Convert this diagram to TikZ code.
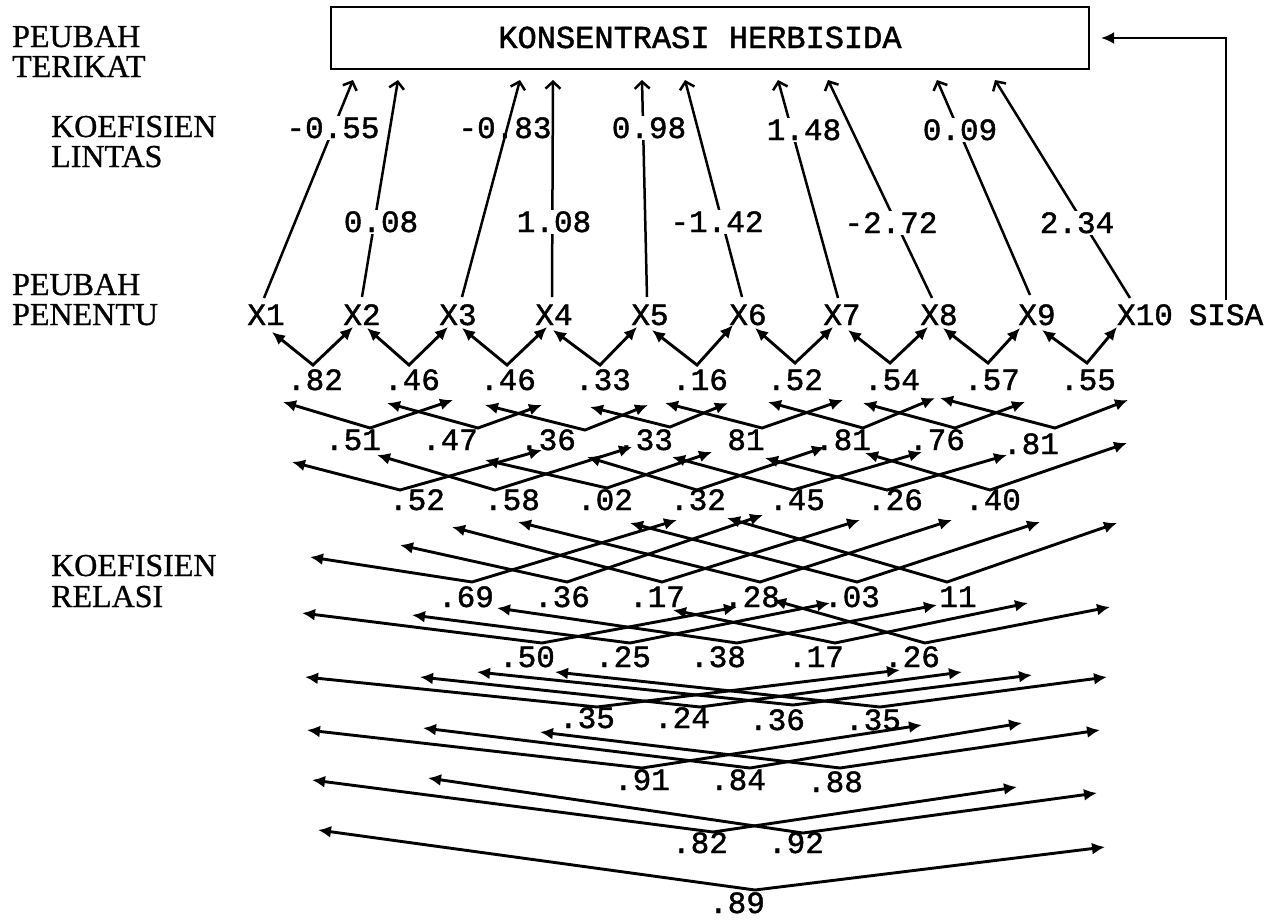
\documentclass[tikz,border=0pt]{standalone}
\usepackage{fontspec}
\setmainfont{Liberation Serif}[FakeBold=0.8]
\setmonofont{Liberation Mono}[FakeBold=1.4]
\usetikzlibrary{arrows.meta}
\begin{document}
\begin{tikzpicture}[x=1pt,y=-1pt,
  carr/.style={line width=2.9pt,line join=miter,{Latex[length=13pt,width=12pt]}-{Latex[length=13pt,width=12pt]}},
  parr/.style={line width=2.5pt,-{Straight Barb[length=7pt,width=15pt,line width=2.5pt]}},
  sarr/.style={line width=2.2pt,-{Latex[length=13pt,width=12pt]}},
  mono/.style={font=\fontsize{31}{31}\selectfont\ttfamily,inner sep=0pt,text height=20pt,text depth=0pt},
  plab/.style={mono,fill=white,inner xsep=2pt,inner ysep=2pt},
  side/.style={font=\fontsize{32}{32}\selectfont,inner sep=0pt,anchor=base west}]
\fill[white] (0,0) rectangle (1278,919);
\useasboundingbox (0,0) rectangle (1278,919);

% side labels
\node[side] (s1) at (12,47) {PEUBAH};
\node[side] (s2) at (12,77) {TERIKAT};
\node[side] (s3) at (51,137) {KOEFISIEN};
\node[side] (s4) at (51,167) {LINTAS};
\node[side] (s5) at (12,295) {PEUBAH};
\node[side] (s6) at (12,325) {PENENTU};
\node[side] (s7) at (51,576) {KOEFISIEN};
\node[side] (s8) at (51,607) {RELASI};

% dependent variable box
\node[draw,line width=2.2pt,minimum width=758pt,minimum height=62pt,inner sep=0pt] (box) at (710,38) {};
\node[mono,font=\fontsize{32}{32}\selectfont\ttfamily] (title) at (700,38) {KONSENTRASI HERBISIDA};

% predictors
\foreach \i/\x in {1/266,2/362,3/458,4/554,5/650,6/748,7/842,8/939,9/1037,10/1145}
  \node[mono] (X\i) at (\x,315) {X\i};
\node[mono] (sisa) at (1226,315) {SISA};
\draw[sarr,shorten >=11pt] ([yshift=5pt]sisa.north) |- (box.east);

% path arrows
\foreach \i/\sx/\sy/\tx in {1/264/298/353,2/362/297/398,3/462/297/520,4/552/297/553,5/647/297/642,6/742/297/685,7/838/298/778,8/932/298/828,9/1030/295/937,10/1130/298/995}{
  \coordinate (ps\i) at (\sx,\sy);
  \coordinate (pe\i) at (\tx,80);
  \draw[parr] (ps\i) -- (pe\i);
}
\node[plab] (p1) at (333,128) {-0.55};
\node[plab] (p2) at (381,222) {0.08};
\node[mono] (p3) at (505,128) {-0.83};
\node[plab] (p4) at (554,222) {1.08};
\node[plab] (p5) at (649,128) {0.98};
\node[plab] (p6) at (717,222) {-1.42};
\node[plab] (p7) at (804,130) {1.48};
\node[plab] (p8) at (891,223) {-2.72};
\node[plab] (p9) at (960,130) {0.09};
\node[plab] (p10) at (1077,223) {2.34};

% correlation arrows
\foreach \id/\t/\tx/\ty/\vx/\vy/\lx/\ly/\rx/\ry in {
 1x2/.82/315/380/313/365/272/332/353/327,
 2x3/.46/412/380/409/365/367/328/448/327,
 3x4/.46/508/380/507/365/462/328/547/327,
 4x5/.33/603/380/600/365/553/330/637/327,
 5x6/.16/700/380/697/365/652/330/733/325,
 6x7/.52/795/380/795/363/755/328/833/327,
 7x8/.54/892/380/890/363/848/330/928/327,
 8x9/.57/992/380/988/363/943/328/1020/328,
 9x10/.55/1088/380/1087/363/1042/330/1117/327,
 1x3/.51/353/440/370/428/283/402/453/400,
 2x4/.47/450/440/478/428/387/403/542/405,
 3x5/.36/548/440/585/430/485/405/648/405,
 4x6/.33/645/440/670/427/590/407/728/403,
 5x7/81/746/440/762/428/665/403/843/400,
 6x8/.81/843/440/863/428/768/402/935/398,
 7x9/.76/937/440/955/428/863/403/1025/402,
 8x10/.81/1031/444/1055/428/940/398/1128/400,
 1x4/.52/417/500/400/490/292/462/542/450,
 2x5/.58/512/500/495/490/377/455/632/447,
 3x6/.02/605/500/607/488/485/460/712/452,
 4x7/.32/698/500/697/490/587/457/825/447,
 5x8/.45/797/500/793/490/672/457/922/452,
 6x9/.26/895/500/887/490/765/458/1007/455,
 7x10/.40/993/500/990/490/865/453/1127/443,
 1x5/.69/466/597/472/582/310/557/677/520,
 2x6/.36/562/597/567/582/400/545/763/515,
 3x7/.17/657/597/662/582/452/527/860/520,
 4x8/.28/752/597/760/582/518/522/952/520,
 5x9/.03/852/597/857/582/630/523/1040/522,
 6x10/11/958/597/947/582/727/518/1117/523,
 1x6/.50/527/657/542/643/302/613/737/607,
 2x7/.25/623/657/630/643/412/615/830/603,
 3x8/.38/718/657/737/643/497/608/937/605,
 4x9/.17/816/657/835/643/673/610/1028/603,
 5x10/.26/912/657/925/643/773/600/1110/607,
 1x7/.35/587/718/597/707/305/677/900/670,
 2x8/.24/682/718/700/707/420/677/962/672,
 3x9/.36/777/720/793/705/477/672/1032/675,
 4x10/.35/873/720/880/707/555/672/1107/677,
 1x8/.91/642/780/642/768/307/730/922/725,
 2x9/.84/738/780/750/768/423/728/1022/723,
 3x10/.88/835/782/840/768/540/732/1100/730,
 1x9/.82/700/843/713/832/312/780/1017/787,
 2x10/.92/796/843/803/833/428/778/1097/793,
 1x10/.89/737/903/755/890/318/830/1105/847}{
  \coordinate (v\id) at (\vx,\vy);
  \coordinate (l\id) at (\lx,\ly);
  \coordinate (r\id) at (\rx,\ry);
  \draw[carr] (l\id) -- (v\id) -- (r\id);
  \node[mono] (c\id) at (\tx,\ty) {\t};
}
\end{tikzpicture}
\end{document}
